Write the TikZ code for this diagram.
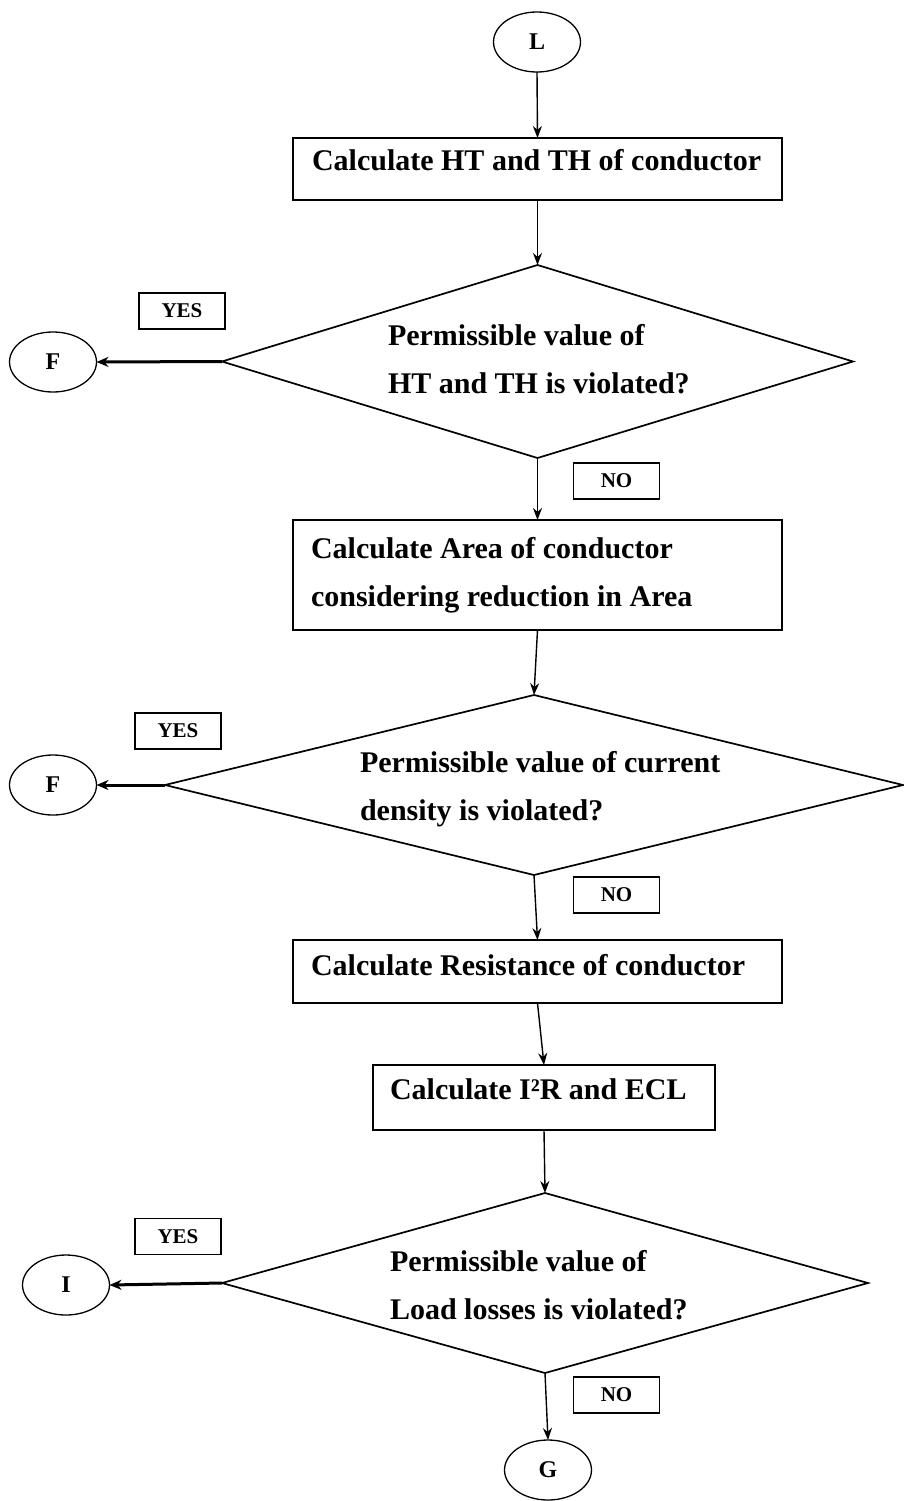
\documentclass[tikz,border=0pt]{standalone}
\usepackage{fontspec}
\setmainfont{Liberation Serif}
\usetikzlibrary{shapes.geometric,arrows.meta}
\begin{document}
\begin{tikzpicture}[x=1pt,y=-1pt,
  every node/.style={inner sep=0pt,outer sep=0pt},
  box/.style={draw,line width=1.7pt},
  dec/.style={draw,line width=1.7pt,shape=diamond},
  conn/.style={draw,ellipse,line width=1.3pt,minimum width=87pt,minimum height=60pt,font=\fontsize{24}{28}\selectfont\bfseries},
  tag/.style={draw,line width=1.6pt,minimum width=86pt,minimum height=36pt,font=\fontsize{21}{24}\selectfont\bfseries},
  txt/.style={anchor=base west,font=\fontsize{30}{34}\selectfont\bfseries},
  arr/.style={line width=1.4pt,-{Stealth[length=12pt,width=9pt]}},
  yarr/.style={line width=3pt,-{Stealth[length=12pt,width=10pt]}}]
\useasboundingbox (0,0) rectangle (903,1501);
% start
\node[conn] (L) at (537,42) {L};
% box 1
\node[box,minimum width=489pt,minimum height=62pt] (b1) at (537.5,169) {};
\node[txt] (t1) at (312,170) {Calculate HT and TH of conductor};
% decision 1
\node[dec,minimum width=631pt,minimum height=193pt] (d1) at (537.5,361.5) {};
\node[txt] (t2a) at (388,345) {Permissible value of};
\node[txt] (t2b) at (388,393) {HT and TH is violated?};
\node[tag] (y1) at (182,311) {YES};
\node[tag] (n1) at (616.5,481) {NO};
\node[conn] (f1) at (53,362) {F};
% box 2
\node[box,minimum width=489pt,minimum height=110pt] (b2) at (537.5,575) {};
\node[txt] (t3a) at (311,558) {Calculate Area of conductor};
\node[txt] (t3b) at (311,606) {considering reduction in Area};
% decision 2
\node[dec,minimum width=738pt,minimum height=180pt] (d2) at (534,785) {};
\node[txt] (t4a) at (360,772) {Permissible value of current};
\node[txt] (t4b) at (360,820) {density is violated?};
\node[tag] (y2) at (178,731) {YES};
\node[tag] (n2) at (616.5,895) {NO};
\node[conn] (f2) at (53,785) {F};
% box 3
\node[box,minimum width=489pt,minimum height=63pt] (b3) at (537.5,971.5) {};
\node[txt] (t5) at (311,975) {Calculate Resistance of conductor};
% box 4
\node[box,minimum width=342pt,minimum height=65pt] (b4) at (544,1097.5) {};
\node[txt] (t6) at (390,1099) {Calculate I²R and ECL};
% decision 3
\node[dec,minimum width=646pt,minimum height=180pt] (d3) at (545,1283) {};
\node[txt] (t7a) at (390,1271) {Permissible value of};
\node[txt] (t7b) at (390,1319) {Load losses is  violated?};
\node[tag] (y3) at (178,1236.5) {YES};
\node[tag] (n3) at (616.5,1395) {NO};
\node[conn] (i1) at (66,1285) {I};
\node[conn] (g1) at (548,1470) {G};
% connectors
\draw[arr] (L.south) -- (b1.north);
\draw[arr] (b1.south) -- (d1.north);
\draw[yarr] (d1.west) -- (f1.east);
\draw[arr] (d1.south) -- (b2.north);
\draw[arr] (b2.south) -- (d2.north);
\draw[yarr] (d2.west) -- (f2.east);
\draw[arr] (d2.south) -- (b3.north);
\draw[arr] (b3.south) -- (b4.north);
\draw[arr] (b4.south) -- (d3.north);
\draw[yarr] (d3.west) -- (i1.east);
\draw[arr] (d3.south) -- (g1.north);
\end{tikzpicture}
\end{document}
